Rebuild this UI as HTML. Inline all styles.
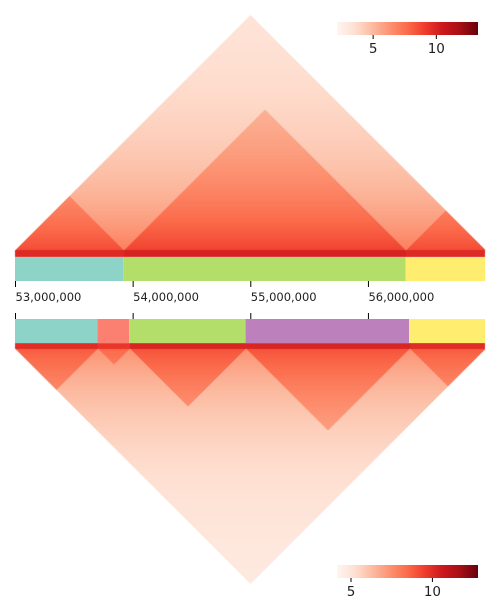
<!DOCTYPE html>
<html><head><meta charset="utf-8"><style>
body{margin:0;background:#fff;width:500px;height:600px;overflow:hidden;font-family:"DejaVu Sans","Liberation Sans",sans-serif}
#c{position:absolute;left:0;top:0}
</style></head><body>
<canvas id="c" width="500" height="600"></canvas>
<svg id="s" width="500" height="600" style="position:absolute;left:0;top:0"></svg>
<script>
// genomic axis (Mb)
const axisStart = 53.0, axisEnd = 56.995;
const tickValues = [53, 54, 55, 56];
const tickLabels = ["53,000,000","54,000,000","55,000,000","56,000,000"];
// top domains
const topStarts = [53.0, 53.92, 56.32];
const topEnds = [53.92, 56.32, 57.0];
const topColors = ["#8dd3c7","#b3de69","#ffed6f"];
const topBoost = [1.6, 1.9, 1.6];
// bottom domains
const botStarts = [53.0, 53.70, 53.97, 54.96, 56.35];
const botEnds = [53.70, 53.97, 54.96, 56.35, 57.0];
const botColors = ["#8dd3c7","#fb8072","#b3de69","#bc80bd","#ffed6f"];
const botBoost = [1.4, 1.1, 1.6, 1.6, 1.4];
// colorbars
const topCbMin = 2.14, topCbMax = 13.3, topCbTicks = [5, 10];
const botCbMin = 4.14, botCbMax = 12.8, botCbTicks = [5, 10];

const X0 = 15, X1 = 485;
const pxPerMb = (X1 - X0) / (axisEnd - axisStart);
const xs = g => X0 + (g - axisStart) * pxPerMb;
const reds = [[255,245,240],[254,224,210],[252,187,161],[252,146,114],[251,106,74],[239,59,44],[203,24,29],[165,15,21],[103,0,13]];
function cmap(t){t=Math.max(0,Math.min(1,t));const f=t*8,i=Math.min(7,Math.floor(f)),r=f-i;return reds[i].map((c,k)=>Math.round(c+(reds[i+1][k]-c)*r));}
function dom(starts,ends,g){for(let k=0;k<starts.length;k++)if(g>=starts[k]&&g<ends[k])return k;return -1;}

const ctx = document.getElementById('c').getContext('2d');
const img = ctx.createImageData(500,600);
function paint(baseY, dir, yMin, yMax, starts, ends, boost, vmin, vmax, base, amp, decay){
  for(let py=yMin; py<=yMax; py++){
    for(let px=X0; px<X1; px++){
      let h = dir*(baseY - py); if(h<0) h=0;
      if(Math.abs(px-250) + h > 235.5) continue;
      const g = axisStart + (px - X0)/pxPerMb, hm = h/pxPerMb;
      const a = g-hm, b = g+hm, d = b-a;
      let v = base + amp*Math.exp(-d/decay);
      const da = dom(starts,ends,a), db = dom(starts,ends,b);
      if(da>=0 && da===db) v += boost[da]*Math.exp(-d/8);
      if(d<0.012) v += 1.2;
      const c = cmap((v - vmin)/(vmax - vmin));
      const o = (py*500+px)*4;
      img.data[o]=c[0];img.data[o+1]=c[1];img.data[o+2]=c[2];img.data[o+3]=255;
    }
  }
}
paint(250, 1, 14, 256, topStarts, topEnds, topBoost, topCbMin, topCbMax, 3.0, 4.0, 1.6);
paint(348, -1, 343, 586, botStarts, botEnds, botBoost, botCbMin, botCbMax, 4.5, 2.9, 1.6);
ctx.putImageData(img,0,0);

const svg = document.getElementById('s'), NS = 'http://www.w3.org/2000/svg';
function el(tag, attrs, parent){const e=document.createElementNS(NS,tag);for(const k in attrs)e.setAttribute(k,attrs[k]);(parent||svg).appendChild(e);return e;}
topStarts.forEach((s,k)=>{const r=el('rect',{x:xs(s),y:257,width:xs(Math.min(topEnds[k],axisEnd))-xs(s),height:24,fill:topColors[k]});

});
botStarts.forEach((s,k)=>{const r=el('rect',{x:xs(s),y:319,width:xs(Math.min(botEnds[k],axisEnd))-xs(s),height:24,fill:botColors[k]});

});
tickValues.forEach((t,k)=>{const x=xs(t)+0.5;
const a=el('line',{x1:x,x2:x,y1:281,y2:287,stroke:'#000','stroke-width':1});


const b=el('line',{x1:x,x2:x,y1:313,y2:319,stroke:'#000','stroke-width':1});


const tx=el('text',{x:x,y:301,'font-size':11.5,fill:'#222','font-family':'DejaVu Sans, Liberation Sans, sans-serif'});tx.textContent=tickLabels[k];

});
function colorbar(id,y,vmin,vmax,ticks){
  const gr=el('linearGradient',{id:id+'-grad',x1:0,x2:1,y1:0,y2:0},el('defs',{}));
  reds.forEach((c,i)=>el('stop',{offset:i/8,'stop-color':'rgb('+c.join(',')+')'},gr));
  const r=el('rect',{x:337,y:y,width:141,height:13,fill:'url(#'+id+'-grad)'});
  
  
  ticks.forEach(t=>{const x=337+(t-vmin)/(vmax-vmin)*141;
    el('line',{x1:x,x2:x,y1:y+13,y2:y+17,stroke:'#000'});
    const tx=el('text',{x:x,y:y+31,'text-anchor':'middle','font-size':13.5,fill:'#222','font-family':'DejaVu Sans, Liberation Sans, sans-serif'});tx.textContent=t;
    
    });
}
colorbar('top-colorbar',22,topCbMin,topCbMax,topCbTicks);
colorbar('bottom-colorbar',565,botCbMin,botCbMax,botCbTicks);
</script>
</body></html>
